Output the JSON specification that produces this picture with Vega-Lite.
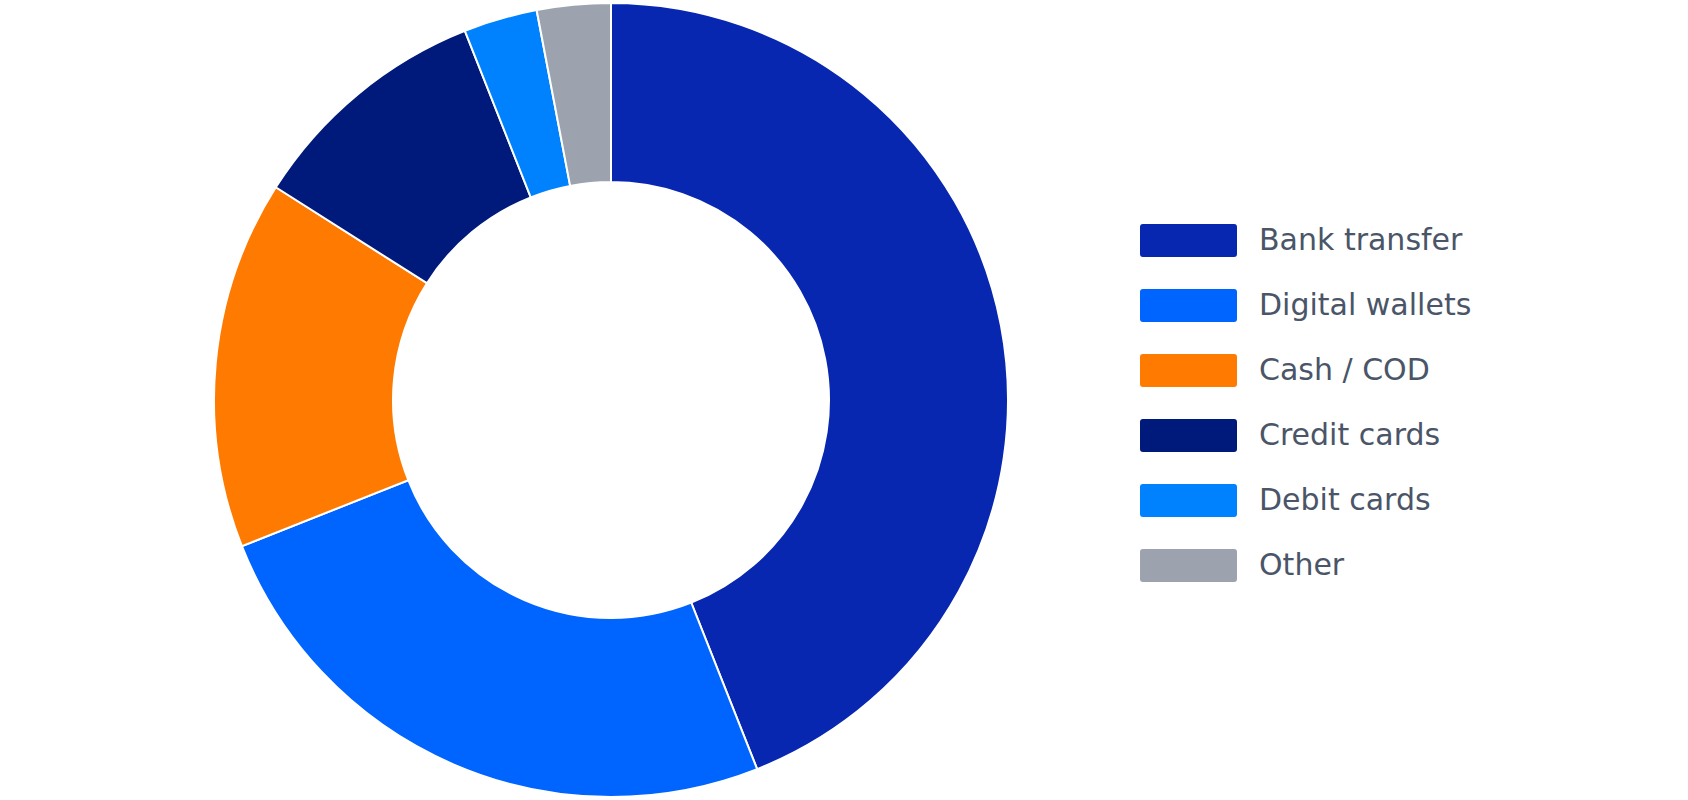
{
  "$schema": "https://vega.github.io/schema/vega-lite/v6.json",
  "width": 1222,
  "height": 800,
  "padding": {"left": 0, "top": 0, "right": 466, "bottom": 0},
  "autosize": {"type": "none"},
  "background": "#ffffff",
  "config": {"view": {"stroke": null}},
  "data": {
    "values": [
      {"method": "Bank transfer", "share": 44, "rank": 1},
      {"method": "Digital wallets", "share": 25, "rank": 2},
      {"method": "Cash / COD", "share": 15, "rank": 3},
      {"method": "Credit cards", "share": 10, "rank": 4},
      {"method": "Debit cards", "share": 3, "rank": 5},
      {"method": "Other", "share": 3, "rank": 6}
    ]
  },
  "mark": {"type": "arc", "outerRadius": 397, "innerRadius": 218, "stroke": "#ffffff", "strokeWidth": 2},
  "encoding": {
    "theta": {"field": "share", "type": "quantitative", "stack": true},
    "order": {"field": "rank", "type": "quantitative"},
    "color": {
      "field": "method",
      "type": "nominal",
      "scale": {
        "domain": ["Bank transfer", "Digital wallets", "Cash / COD", "Credit cards", "Debit cards", "Other"],
        "range": ["#0727B0", "#0064FF", "#FF7A00", "#001A7B", "#0082FF", "#9CA3AF"]
      },
      "legend": {
        "orient": "none",
        "legendX": 1140,
        "legendY": 192,
        "title": null,
        "padding": 0,
        "symbolType": "M-0.94,-0.34H0.94Q1,-0.34 1,-0.28V0.28Q1,0.34 0.94,0.34H-0.94Q-1,0.34 -1,0.28V-0.28Q-1,-0.34 -0.94,-0.34Z",
        "symbolSize": 9409,
        "symbolStrokeWidth": 0,
        "symbolOpacity": 1,
        "labelFont": "DejaVu Sans",
        "labelFontSize": 30,
        "labelColor": "#4A5568",
        "labelOffset": 22,
        "rowPadding": 0,
        "labelLimit": 400
      }
    }
  }
}
